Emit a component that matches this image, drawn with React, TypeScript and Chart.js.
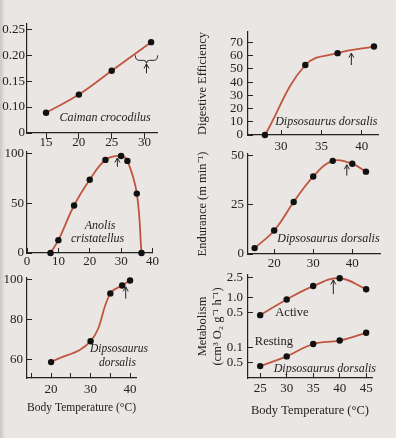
import React, { useEffect, useRef } from "react";
import { Chart, registerables } from "chart.js";

Chart.register(...registerables);
Chart.defaults.font.family = '"Liberation Serif", "Times New Roman", serif';

// ---------------- Data ----------------
// Caiman crocodilus
const caimanTemp = [15, 20, 25, 31];
const caimanValue = [0.089, 0.124, 0.17, 0.225];
const caimanXTicks = [15, 20, 25, 30];
const caimanYTicks = [0.05, 0.1, 0.15, 0.2, 0.25];
const caimanYLabels = ["0", "0.10", "0.15", "0.20", "0.25"];

// Anolis cristatellus
const anolisTemp = [7.5, 10, 15, 20, 25, 30, 32, 35, 36.5];
const anolisValue = [0, 13, 48, 74, 94, 98, 93, 60, 0];
const anolisXTicks = [0, 10, 20, 30, 40];
const anolisYTicks = [0, 50, 100];

// Dipsosaurus dorsalis (bottom left)
const dipsoTemp = [20, 30, 35, 38, 40];
const dipsoValue = [58.5, 69, 93, 97, 99.5];
const dipsoXTicks = [15, 20, 25, 30, 35, 40];
const dipsoXLabels = ["", "20", "", "30", "", "40"];
const dipsoYTicks = [60, 80, 100];

// Digestive efficiency
const digestTemp = [28, 33, 37, 41.5];
const digestValue = [0, 53, 62, 67];
const digestXTicks = [30, 35, 40];
const digestYTicks = [0, 10, 20, 30, 40, 50, 60, 70];

// Endurance
const enduranceTemp = [15, 20, 25, 30, 35, 40, 43.5];
const enduranceValue = [3, 12, 26.5, 39.5, 47.5, 46, 42];
const enduranceXTicks = [20, 30, 40];
const enduranceYTicks = [0, 25, 50];

// Metabolism
const metabTemp = [25, 30, 35, 40, 45];
const metabActive = [0.44, 0.9, 1.66, 2.37, 1.44];
const metabResting = [0.043, 0.067, 0.118, 0.138, 0.197];
const metabXTicks = [25, 30, 35, 40, 45];
const metabYTicks = [0.05, 0.1, 0.5, 1.0, 2.5];
const metabYLabels = ["0.5", "0.1", "0.5", "1.0", "2.5"];

// ---------------- Styles ----------------
const INK = "#232323";
const LINE = "#c0563f";
const BG = "#e9e6e4";

const decorPlugin = {
  id: "decor",
  afterDatasetsDraw(chart: any, _args: any, opts: any) {
    const ctx = chart.ctx;
    const xs = chart.scales.x;
    const ys = chart.scales.y;
    ctx.save();
    ctx.fillStyle = INK;
    ctx.strokeStyle = INK;
    ctx.textAlign = "center";
    ctx.textBaseline = "middle";
    (opts.labels || []).forEach((l: any) => {
      ctx.font = `${l.italic ? "italic " : ""}${l.size || 12}px "Liberation Serif", "Times New Roman", serif`;
      ctx.fillText(l.text, xs.getPixelForValue(l.x), ys.getPixelForValue(l.y));
    });
    ctx.lineWidth = 1;
    (opts.arrows || []).forEach((a: any) => {
      const x = xs.getPixelForValue(a.x);
      const y0 = ys.getPixelForValue(a.from);
      const y1 = ys.getPixelForValue(a.to);
      ctx.beginPath();
      ctx.moveTo(x, y0);
      ctx.lineTo(x, y1);
      ctx.stroke();
      ctx.beginPath();
      ctx.moveTo(x - 2.5, y1 + 4.5);
      ctx.lineTo(x, y1);
      ctx.lineTo(x + 2.5, y1 + 4.5);
      ctx.stroke();
    });
    if (opts.brace) {
      const b = opts.brace;
      const bx0 = xs.getPixelForValue(b.x0);
      const bx1 = xs.getPixelForValue(b.x1);
      const by = ys.getPixelForValue(b.y);
      const bm = (bx0 + bx1) / 2;
      ctx.beginPath();
      ctx.moveTo(bx0, by - 5);
      ctx.quadraticCurveTo(bx0, by, bx0 + 4, by);
      ctx.lineTo(bm - 3, by);
      ctx.quadraticCurveTo(bm, by, bm, by + 3);
      ctx.quadraticCurveTo(bm, by, bm + 3, by);
      ctx.lineTo(bx1 - 4, by);
      ctx.quadraticCurveTo(bx1, by, bx1, by - 5);
      ctx.stroke();
    }
    ctx.restore();
  },
};

type AxisSpec = {
  type?: string;
  min: number;
  max: number;
  ticks: number[];
  labels?: string[];
  tl: number;
  pad: number;
  title?: string | string[];
  titlePadBottom?: number;
};

type PanelSpec = {
  box: { left: number; top: number; width: number; height: number };
  area: { left: number; top: number; right: number; bottom: number };
  series: { x: number[]; y: number[] }[];
  x: AxisSpec;
  y: AxisSpec;
  decor: any;
};

function makeAxis(a: AxisSpec, size: number, horizontal: boolean) {
  return {
    type: a.type || "linear",
    min: a.min,
    max: a.max,
    afterBuildTicks: (s: any) => {
      s.ticks = a.ticks.map((v) => ({ value: v }));
    },
    afterFit: (s: any) => {
      if (horizontal) s.height = size;
      else s.width = size;
    },
    ticks: {
      autoSkip: false,
      maxRotation: 0,
      minRotation: 0,
      padding: a.pad,
      color: INK,
      font: { size: 13, lineHeight: 1 },
      callback: (_v: any, i: number) => (a.labels ? a.labels[i] : String(a.ticks[i])),
    },
    grid: {
      drawOnChartArea: false,
      drawTicks: true,
      tickLength: a.tl,
      color: INK,
      lineWidth: 1,
    },
    border: { display: true, color: INK, width: 1.2 },
    title: a.title
      ? {
          display: true,
          text: a.title,
          color: INK,
          font: { size: 12.5, lineHeight: 1.2 },
          padding: { top: 0, bottom: a.titlePadBottom || 0 },
        }
      : { display: false },
  };
}

function buildConfig(p: PanelSpec): any {
  const topPad = p.area.top - p.box.top;
  const rightPad = p.box.left + p.box.width - p.area.right;
  const yWidth = p.area.left - p.box.left;
  const xHeight = p.box.top + p.box.height - p.area.bottom;
  return {
    type: "line",
    data: {
      datasets: p.series.map((s) => ({
        data: s.x.map((x, i) => ({ x, y: s.y[i] })),
        borderColor: LINE,
        borderWidth: 1.8,
        tension: 0.4,
        pointRadius: 3.2,
        pointBackgroundColor: "#111",
        pointBorderWidth: 0,
        clip: false,
        fill: false,
      })),
    },
    options: {
      responsive: false,
      maintainAspectRatio: false,
      animation: false,
      devicePixelRatio: 1,
      events: [],
      layout: {
        autoPadding: false,
        padding: { top: topPad, right: rightPad, bottom: 0, left: 0 },
      },
      scales: {
        x: makeAxis(p.x, xHeight, true),
        y: makeAxis(p.y, yWidth, false),
      },
      plugins: {
        legend: { display: false },
        tooltip: { enabled: false },
        decor: p.decor,
      },
    },
    plugins: [decorPlugin],
  };
}

const panels: PanelSpec[] = [
  {
    box: { left: 0, top: 0, width: 166, height: 160 },
    area: { left: 27, top: 24, right: 157, bottom: 133 },
    series: [{ x: caimanTemp, y: caimanValue }],
    x: { min: 12.1, max: 31.9, ticks: caimanXTicks, tl: 6, pad: -3 },
    y: { min: 0.05, max: 0.26, ticks: caimanYTicks, labels: caimanYLabels, tl: -5, pad: 7 },
    decor: {
      labels: [{ text: "Caiman crocodilus", x: 24, y: 0.079, italic: true, size: 12 }],
      arrows: [{ x: 30.3, from: 0.165, to: 0.183 }],
      brace: { x0: 28.6, x1: 32, y: 0.19 },
    },
  },
  {
    box: { left: 0, top: 130, width: 166, height: 150 },
    area: { left: 27, top: 152, right: 157, bottom: 253 },
    series: [{ x: anolisTemp, y: anolisValue }],
    x: { min: 0, max: 40, ticks: anolisXTicks, tl: -5, pad: 7 },
    y: { min: 0, max: 102, ticks: anolisYTicks, tl: -5, pad: 8 },
    decor: {
      labels: [
        { text: "Anolis", x: 23.3, y: 27, italic: true, size: 12 },
        { text: "cristatellus", x: 22.5, y: 14, italic: true, size: 12 },
      ],
      arrows: [{ x: 28.8, from: 87, to: 96 }],
    },
  },
  {
    box: { left: 0, top: 262, width: 150, height: 160 },
    area: { left: 27, top: 277, right: 136, bottom: 378 },
    series: [{ x: dipsoTemp, y: dipsoValue }],
    x: {
      min: 13.9,
      max: 41.5,
      ticks: dipsoXTicks,
      labels: dipsoXLabels,
      tl: -5,
      pad: 10,
      title: "Body Temperature (°C)",
      titlePadBottom: 7,
    },
    y: { min: 50.5, max: 101, ticks: dipsoYTicks, tl: -5, pad: 9 },
    decor: {
      labels: [
        { text: "Dipsosaurus", x: 37.2, y: 65, italic: true, size: 11.5 },
        { text: "dorsalis", x: 36.8, y: 58, italic: true, size: 11.5 },
      ],
      arrows: [{ x: 38.9, from: 90.4, to: 96.3 }],
    },
  },
  {
    box: { left: 195, top: 10, width: 195, height: 150 },
    area: { left: 248, top: 32, right: 378, bottom: 135 },
    series: [{ x: digestTemp, y: digestValue }],
    x: { min: 25.9, max: 42, ticks: digestXTicks, tl: -5, pad: 10 },
    y: { min: 0, max: 78, ticks: digestYTicks, tl: -5, pad: 10, title: "Digestive Efficiency" },
    decor: {
      labels: [{ text: "Dipsosaurus dorsalis", x: 35.6, y: 10, italic: true, size: 12 }],
      arrows: [{ x: 38.7, from: 53, to: 62 }],
    },
  },
  {
    box: { left: 195, top: 130, width: 195, height: 150 },
    area: { left: 248, top: 154, right: 380, bottom: 254 },
    series: [{ x: enduranceTemp, y: enduranceValue }],
    x: { min: 13.3, max: 47.1, ticks: enduranceXTicks, tl: -5, pad: 8 },
    y: { min: 0, max: 51, ticks: enduranceYTicks, tl: -5, pad: 9, title: "Endurance (m min⁻¹)" },
    decor: {
      labels: [{ text: "Dipsosaurus dorsalis", x: 33.9, y: 7.5, italic: true, size: 12 }],
      arrows: [{ x: 38.6, from: 40, to: 45.5 }],
    },
  },
  {
    box: { left: 195, top: 255, width: 195, height: 170 },
    area: { left: 248, top: 275, right: 372, bottom: 378 },
    series: [
      { x: metabTemp, y: metabActive },
      { x: metabTemp, y: metabResting },
    ],
    x: {
      min: 22.7,
      max: 46.1,
      ticks: metabXTicks,
      tl: -5,
      pad: 9,
      title: "Body Temperature (°C)",
      titlePadBottom: 7,
    },
    y: {
      type: "logarithmic",
      min: 0.025,
      max: 2.75,
      ticks: metabYTicks,
      labels: metabYLabels,
      tl: -5,
      pad: 10,
      title: ["Metabolism", "(cm³ O₂ g⁻¹ h⁻¹)"],
    },
    decor: {
      labels: [
        { text: "Active", x: 31, y: 0.5, size: 12.5 },
        { text: "Resting", x: 27.6, y: 0.128, size: 12.5 },
        { text: "Dipsosaurus dorsalis", x: 37.2, y: 0.038, italic: true, size: 12 },
      ],
      arrows: [{ x: 38.8, from: 1.15, to: 2.2 }],
    },
  },
];

function PanelChart({ spec }: { spec: PanelSpec }) {
  const ref = useRef<HTMLCanvasElement>(null);
  useEffect(() => {
    if (!ref.current) return;
    const chart = new Chart(ref.current, buildConfig(spec));
    return () => chart.destroy();
  }, [spec]);
  const b = spec.box;
  return (
    <canvas
      ref={ref}
      width={b.width}
      height={b.height}
      style={{ position: "absolute", left: b.left, top: b.top, width: b.width, height: b.height }}
    />
  );
}

export default function App() {
  return (
    <div
      style={{
        position: "absolute",
        left: 0,
        top: 0,
        width: 396,
        height: 438,
        overflow: "hidden",
        background: `linear-gradient(to right, #c9c6c5 0px, ${BG} 5px, ${BG} 100%)`,
      }}
    >
      {panels.map((p, i) => (
        <PanelChart key={i} spec={p} />
      ))}
    </div>
  );
}
